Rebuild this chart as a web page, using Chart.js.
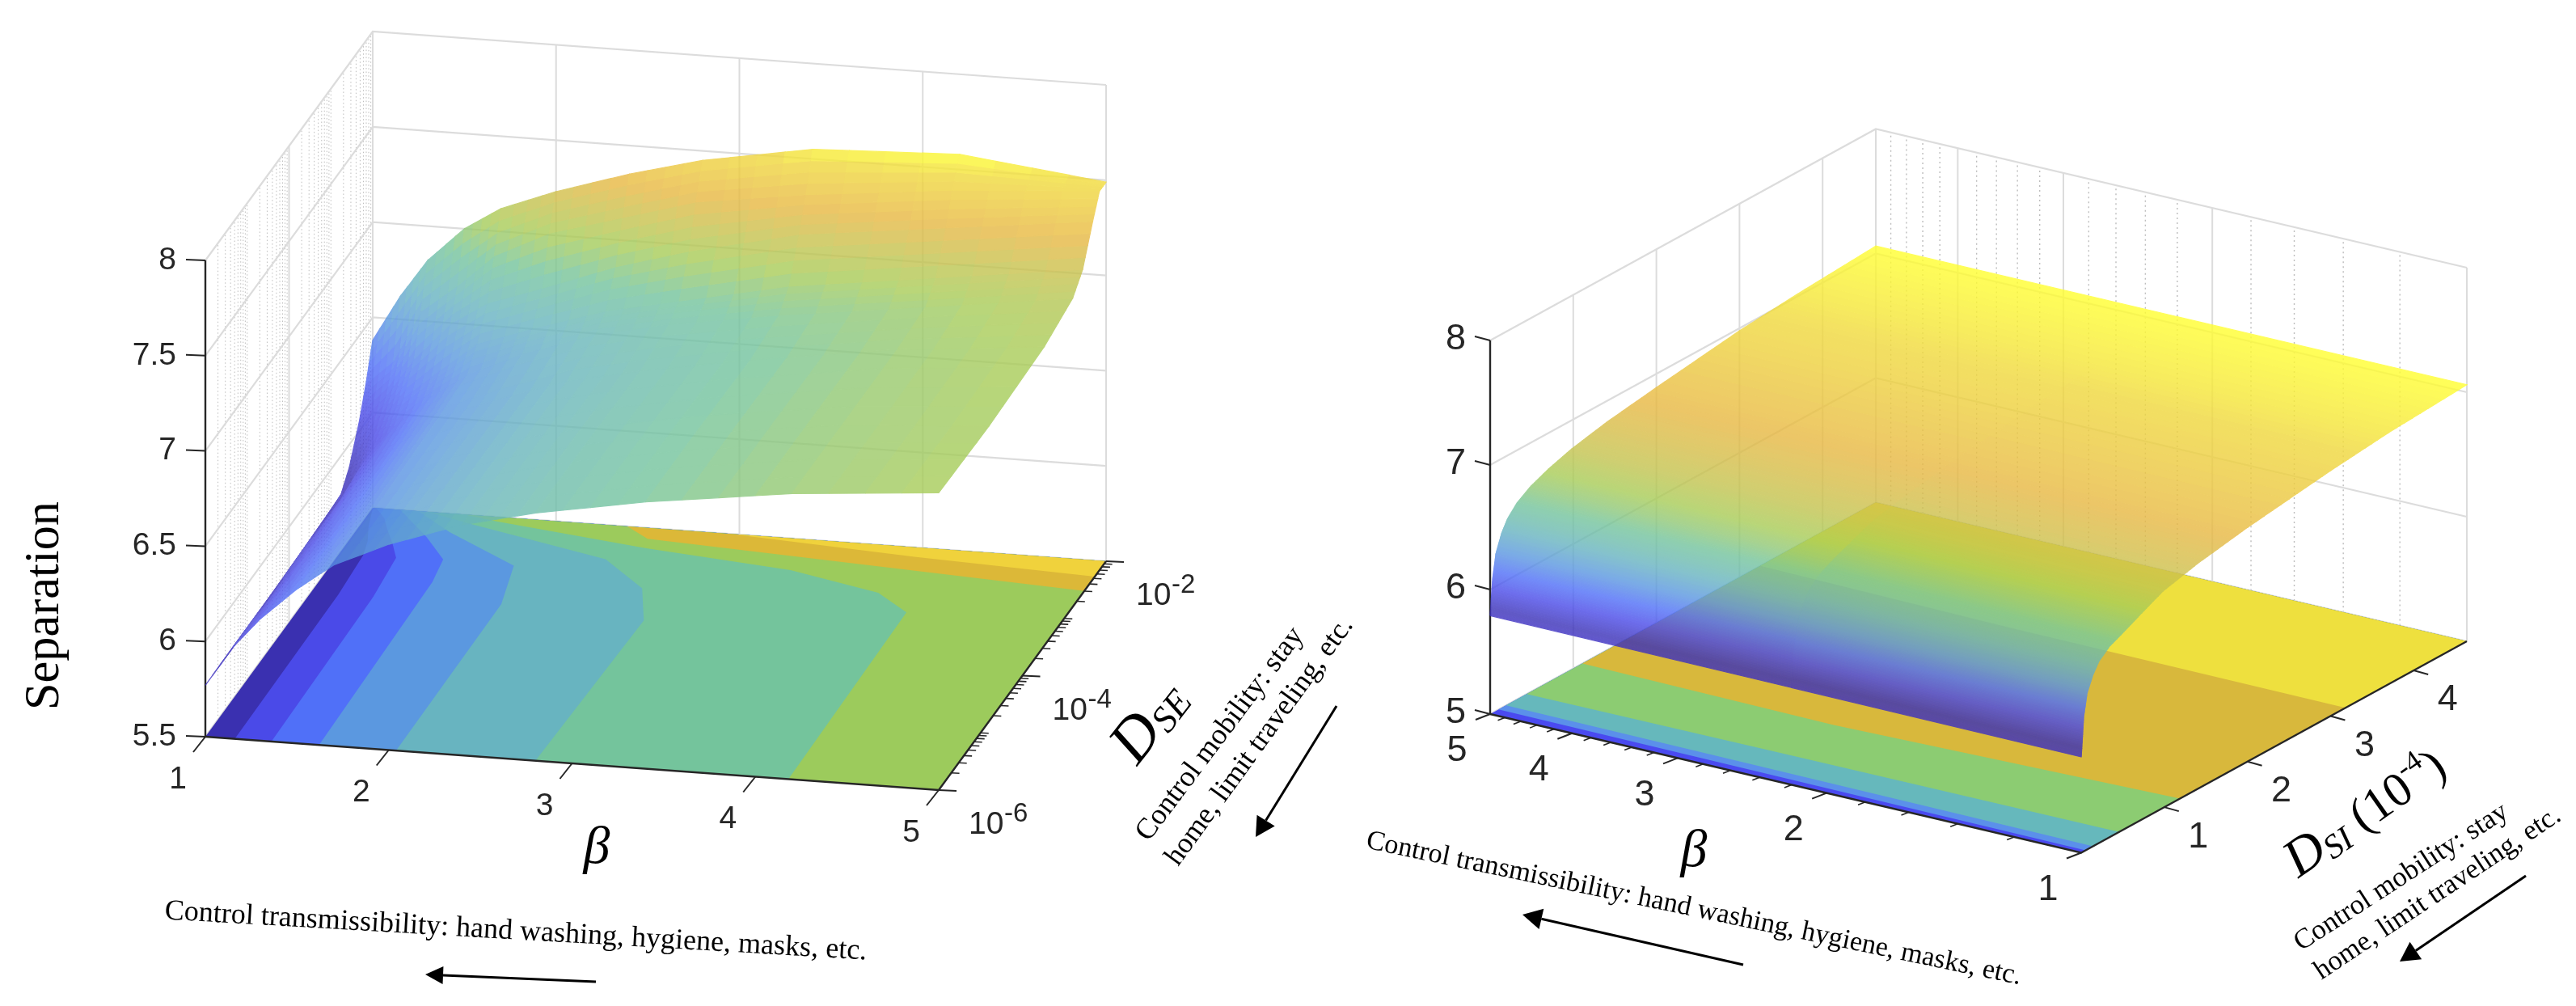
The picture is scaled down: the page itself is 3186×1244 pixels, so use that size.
<!DOCTYPE html>
<html><head><meta charset="utf-8">
<style>
html,body{margin:0;padding:0;background:#fff;width:3186px;height:1244px;overflow:hidden}
canvas{position:absolute;left:0;top:0}
#surf{opacity:.8}
</style>
<script src="https://cdn.jsdelivr.net/npm/chart.js@4/dist/chart.umd.js"></script>
</head><body>
<canvas id="base" width="3186" height="1244"></canvas>
<canvas id="surf" width="3186" height="1244"></canvas>
<script>
/* ---------- values ---------- */
/* left panel: Separation over beta and log10(D_SE) */
const betaL = [1,1.15,1.3,1.5,1.7,2,2.4,2.8,3.4,4.2,5];
const logDL = [-6,-4.8,-3.48,-2.8,-2.56,-2.32,-2.16,-2];
const sepL_m6   = [5.77,5.98,6.14,6.31,6.45,6.58,6.71,6.80,6.90,7.00,7.06];
const sepL_m48  = [5.77,5.98,6.14,6.31,6.45,6.58,6.71,6.80,6.90,7.00,7.05];
const sepL_m348 = [5.78,6.00,6.16,6.33,6.47,6.58,6.71,6.79,6.89,7.00,7.07];
const sepL_m28  = [5.78,6.03,6.19,6.36,6.49,6.62,6.75,6.83,6.92,7.02,7.12];
const sepL_m256 = [5.88,6.09,6.27,6.43,6.58,6.68,6.80,6.88,7.00,7.10,7.20];
const sepL_m232 = [6.05,6.20,6.40,6.60,6.72,6.82,6.96,7.07,7.20,7.29,7.38];
const sepL_m216 = [6.20,6.33,6.60,6.75,6.92,7.06,7.17,7.28,7.36,7.44,7.49];
const sepL_m2   = [6.38,6.62,6.82,7.00,7.12,7.23,7.35,7.45,7.55,7.58,7.49];
/* left floor contours: [beta, log10 D] */
const contourL60 = [[1.16,-6],[1.15,-3.48],[1.13,-2.8],[1.10,-2.56],[1.05,-2.32],[1.0,-2]];
const contourL62 = [[1.36,-6],[1.34,-3.48],[1.31,-2.8],[1.235,-2.56],[1.15,-2.32],[1.1,-2.16],[1.02,-2]];
const contourL64 = [[1.62,-6],[1.59,-3.16],[1.56,-2.77],[1.39,-2.42],[1.15,-2]];
const contourL66 = [[2.04,-6],[2.03,-3.44],[1.95,-2.79],[1.49,-2.31],[1.25,-2]];
const contourL68 = [[2.80,-6],[2.83,-3.54],[2.70,-3.01],[2.40,-2.57],[1.57,-2.15],[1.3,-2]];
const contourL70 = [[4.18,-6],[4.16,-3.09],[3.94,-2.8],[3.40,-2.53],[2.57,-2.34],[1.68,-2.07],[1.5,-2]];
const contourL72 = [[5,-2.52],[2.54,-2.18],[2.39,-2]];
const contourL74 = [[5,-2.27],[4,-2.16],[2.95,-2]];
const floorColorsL = ['#3a30b0','#4a4ae8','#5070f8','#5b98e0','#68b4c0','#74c49c','#9ccb5c','#dcb838','#f0d23c'];

/* right panel: Separation over beta and D_SI (1e-4) */
const betaR = [5,2.2,1];
const dsiR = [0,.03,.07,.14,.21,.33,.49,.7,.98,1.4,2,3,3.7,4.64];
const sepR_b5 = [5.79,6.07,6.26,6.40,6.49,6.58,6.65,6.71,6.77,6.83,6.89,6.98,7.02,7.06];
const sepR_b2 = [5.78,6.08,6.26,6.39,6.48,6.56,6.62,6.68,6.76,6.82,6.89,6.98,7.02,7.06];
const sepR_b1 = [5.77,6.09,6.26,6.38,6.46,6.53,6.58,6.65,6.74,6.81,6.88,6.97,7.02,7.06];
const contourR62 = [[5,.10],[2.5,.08],[1,.053]];
const contourR64 = [[5,.19],[2.5,.17],[1,.144]];
const contourR66 = [[5,.44],[2.5,.45],[1,.455]];
const contourR68 = [[5,1.11],[2.5,1.07],[1,1.19]];
const contourR70 = [[5,3.25],[2.5,3.2],[1,3.18]];
const floorColorsR = ['#4a4af0','#5b90ea','#66b8bc','#8ccc72','#d8b83c','#eee03e'];

/* tick labels */
const zTicksL = [8,7.5,7,6.5,6,5.5];
const betaTicksL = [1,2,3,4,5];
const logDTicksL = [-6,-4,-2];
const zTicksR = [8,7,6,5];
const betaTicksR = [5,4,3,2,1];
const dsiTicksR = [1,2,3,4];

const zStops = [[0,'#3c2fc4'],[.06,'#3a30b8'],[.18,'#4a4ae8'],[.29,'#5070f8'],[.4,'#5b98e0'],[.51,'#68b4c0'],[.62,'#74c49c'],[.71,'#a8cc58'],[.85,'#e8b842'],[.95,'#f0d83c'],[1,'#ffff30']];

/* ---------- axes geometry ---------- */
const gL = {o:[254,911], a:[907,66], b:[207,-283], z:235.6, z0:5.5, zTop:8};
const gR = {o:[1843,883], a:[731,171.5], b:[477,-261.5], z:154, z0:5, zTop:8};
const aL = b => (b-1)/4, uL = d => (d+6)/4;
const aR = b => Math.log(5/b)/Math.log(5), uR = d => d/4.64;
function proj(g,a,u,z){return {x:g.o[0]+g.a[0]*a+g.b[0]*u, y:g.o[1]+g.a[1]*a+g.b[1]*u-g.z*(z-g.z0)};}
const pL=(b,d,z)=>proj(gL,aL(b),uL(d),z===undefined?gL.z0:z);
const pR=(b,d,z)=>proj(gR,aR(b),uR(d),z===undefined?gR.z0:z);

function hex(c){return [1,3,5].map(i=>parseInt(c.substr(i,2),16));}
function cmap(t){
  t=Math.max(0,Math.min(1,t));
  for(let i=1;i<zStops.length;i++){
    if(t<=zStops[i][0]){
      const [t0,c0]=zStops[i-1],[t1,c1]=zStops[i];
      const f=(t-t0)/(t1-t0),A=hex(c0),B=hex(c1);
      return 'rgb('+A.map((v,k)=>Math.round(v+(B[k]-v)*f)).join(',')+')';
    }
  }
  return zStops[zStops.length-1][1];
}

/* ---------- dataset builders ---------- */
function line(pts,color,width,dash){return {data:pts,showLine:true,pointRadius:0,borderColor:color,borderWidth:width,borderDash:dash||[],fill:false,tension:0,clip:false};}
function poly(pts,color,seam){return {data:pts.concat([pts[0]]),showLine:true,pointRadius:0,borderColor:color,borderWidth:seam?1.2:0,backgroundColor:color,fill:'shape',tension:0,clip:false};}
function arrow(x1,y1,x2,y2,head,w){
  const L=Math.hypot(x2-x1,y2-y1),ux=(x2-x1)/L,uy=(y2-y1)/L,bx=x2-ux*head,by=y2-uy*head;
  return [line([{x:x1,y:y1},{x:bx,y:by}],'#000',3),
    poly([{x:x2,y:y2},{x:bx-uy*w,y:by+ux*w},{x:bx+uy*w,y:by-ux*w}],'#000')];
}

const GRID='#dcdcdc', DOT='#bdbdbd', AX='#262626';
const base=[];
/* --- left panel walls --- */
const logMinorL=[];
for(let d=-6;d<-2;d++){for(const m of [1,2,3,4,5,6,7,8,9]){const v=d+Math.log10(m); if(![-6,-4].includes(v)) logMinorL.push(v);}}
for(const v of logMinorL) base.push(line([pL(1,v,5.5),pL(1,v,8)],DOT,1,[1.5,3]));
for(const d of [-4,-2]) base.push(line([pL(1,d,5.5),pL(1,d,8)],GRID,2));
for(const b of [2,3,4,5]) base.push(line([pL(b,-2,5.5),pL(b,-2,8)],GRID,2));
for(const z of zTicksL){base.push(line([pL(1,-6,z),pL(1,-2,z),pL(5,-2,z)],GRID,2.2));}
/* --- left floor --- */
base.push(poly([pL(1,-6),pL(5,-6),pL(5,-2),pL(1,-2)],floorColorsL[0]));
[contourL60,contourL62,contourL64,contourL66,contourL68,contourL70,contourL72,contourL74].forEach((c,i)=>{
  const pts=c.map(p=>pL(p[0],p[1]));
  pts.push(pL(5,-2)); pts.push(pL(5,c[0][1]));
  base.push(poly(pts,floorColorsL[i+1]));
});
/* --- left axes --- */
base.push(line([pL(1,-6,8),pL(1,-6,5.5)],AX,2.4));
base.push(line([pL(1,-6),pL(5,-6),pL(5,-2)],AX,2.4));
const off=(p,dx,dy)=>[p,{x:p.x+dx,y:p.y+dy}];
for(const z of zTicksL) base.push(line(off(pL(1,-6,z),-24,-1),AX,2));
for(const b of betaTicksL) base.push(line(off(pL(b,-6),-15,19),AX,2));
for(const v of logMinorL) if(v!==-2) base.push(line(off(pL(5,v),10,.5),AX,1.6));
for(const d of logDTicksL) base.push(line(off(pL(5,d),22,1),AX,2));

/* --- right panel walls --- */
const betaMinorR=[4.8,4.6,4.4,4.2,3.8,3.6,3.4,3.2,2.8,2.6,2.4,2.2,1.8,1.6,1.4,1.2];
for(const b of betaMinorR) base.push(line([pR(b,4.64,5),pR(b,4.64,8)],DOT,1.4,[2,4]));
for(const b of betaTicksR) base.push(line([pR(b,4.64,5),pR(b,4.64,8)],GRID,2));
for(const d of dsiTicksR) base.push(line([pR(5,d,5),pR(5,d,8)],GRID,2));
for(const z of zTicksR) base.push(line([pR(5,0,z),pR(5,4.64,z),pR(1,4.64,z)],GRID,2.2));
/* --- right floor --- */
base.push(poly([pR(5,0),pR(1,0),pR(1,4.64),pR(5,4.64)],floorColorsR[0]));
[contourR62,contourR64,contourR66,contourR68,contourR70].forEach((c,i)=>{
  const pts=c.map(p=>pR(p[0],p[1]));
  pts.push(pR(1,4.64)); pts.push(pR(5,4.64));
  base.push(poly(pts,floorColorsR[i+1]));
});
/* --- right axes --- */
base.push(line([pR(5,0,8),pR(5,0,5)],AX,2.4));
base.push(line([pR(5,0),pR(1,0),pR(1,4.64)],AX,2.4));
for(const z of zTicksR) base.push(line(off(pR(5,0,z),-19,-5),AX,2));
for(const b of betaTicksR) base.push(line(off(pR(b,0),-18,7),AX,2));
for(const b of betaMinorR) base.push(line(off(pR(b,0),-9,3.5),AX,1.6));
for(const d of dsiTicksR) base.push(line(off(pR(1,d),18,5),AX,2));

/* --- annotation arrows --- */
base.push(...arrow(737,1214,526,1205,22,11));
base.push(...arrow(1653,873,1553,1035,24,13));
base.push(...arrow(2156,1193,1883,1131,24,13));
base.push(...arrow(3124,1083,2968,1189,24,13));

/* --- surfaces (shaded mesh over the read values) --- */
const surf=[];
function shade(xs,ys,zz,project,zmin,zmax,nx,nyFor){
  for(let j=0;j<ys.length-1;j++)for(let i=0;i<xs.length-1;i++){
    const ny=nyFor(j);
    for(let q=0;q<ny;q++)for(let r=0;r<nx;r++){
      const at=(ri,qi)=>{const s=ri/nx,t=qi/ny;
        const z=(zz[j][i]*(1-s)+zz[j][i+1]*s)*(1-t)+(zz[j+1][i]*(1-s)+zz[j+1][i+1]*s)*t;
        return {p:project(xs[i]+(xs[i+1]-xs[i])*s,ys[j]+(ys[j+1]-ys[j])*t,z),z};};
      const A=at(r,q),B=at(r+1,q),C=at(r+1,q+1),D=at(r,q+1);
      const zm=(A.z+B.z+C.z+D.z)/4;
      surf.push(poly([A.p,B.p,C.p,D.p],cmap((zm-zmin)/(zmax-zmin)),true));
    }
  }
}
shade(betaL,logDL,[sepL_m6,sepL_m48,sepL_m348,sepL_m28,sepL_m256,sepL_m232,sepL_m216,sepL_m2],pL,5.77,7.58,4,()=>4);
const rowsR=dsiR.map((_,k)=>[sepR_b5[k],sepR_b2[k],sepR_b1[k]]);
shade(betaR,dsiR,rowsR,pR,5.77,7.06,1,j=>j<5?24:10);

/* ---------- text ---------- */
const SANS='"Liberation Sans",Arial,sans-serif', SERIF='"Liberation Serif",serif';
function txt(ctx,s,x,y,font,align,color,base2){ctx.font=font;ctx.textAlign=align||'center';ctx.textBaseline=base2||'middle';ctx.fillStyle=color||'#262626';ctx.fillText(s,x,y);}
function fitRot(ctx,s,cx,cy,deg,len,style){
  ctx.save();ctx.translate(cx,cy);ctx.rotate(deg*Math.PI/180);
  ctx.font=style+'100px '+SERIF;
  const size=100*len/ctx.measureText(s).width;
  ctx.font=style+size.toFixed(1)+'px '+SERIF;ctx.textAlign='center';ctx.textBaseline='middle';ctx.fillStyle='#000';ctx.fillText(s,0,0);ctx.restore();
}
function runs(ctx,parts,cx,cy,deg){
  ctx.save();ctx.translate(cx,cy);ctx.rotate(deg*Math.PI/180);ctx.textAlign='left';ctx.textBaseline='alphabetic';ctx.fillStyle='#000';
  let w=0;parts.forEach(p=>{ctx.font=p[1];w+=ctx.measureText(p[0]).width;});
  let x=-w/2;parts.forEach(p=>{ctx.font=p[1];ctx.fillText(p[0],x,p[2]);x+=ctx.measureText(p[0]).width;});
  ctx.restore();
}
const textPlugin={id:'labels',afterDraw(c){
  const ctx=c.ctx;ctx.save();
  const fL='39px '+SANS,fR='45px '+SANS;
  for(const z of zTicksL){const p=pL(1,-6,z);txt(ctx,String(z),218,p.y,fL,'right');}
  for(const b of betaTicksL){const p=pL(b,-6);txt(ctx,String(b),p.x-34,p.y+53,fL);}
  for(const d of logDTicksL){const p=pL(5,d);
    txt(ctx,'10',p.x+37,p.y+54,fL,'left','#262626','alphabetic');
    txt(ctx,String(d),p.x+81,p.y+39,'33px '+SANS,'left','#262626','alphabetic');}
  for(const z of zTicksR){const p=pR(5,0,z);txt(ctx,String(z),1813,p.y-1,fR,'right');}
  for(const b of betaTicksR){const p=pR(b,0);txt(ctx,String(b),p.x-41,p.y+46,fR);}
  for(const d of dsiTicksR){const p=pR(1,d);txt(ctx,String(d),p.x+42,p.y+37,fR);}
  /* axis titles */
  fitRot(ctx,'Separation',56,749,-90,258,'');
  txt(ctx,'β',738,1050,'italic 66px '+SERIF,'center','#000');
  txt(ctx,'β',2095,1054,'italic 66px '+SERIF,'center','#000');
  runs(ctx,[['D','italic 76px '+SERIF,0],['SE','italic 46px '+SERIF,6]],1439,906,-52);
  runs(ctx,[['D','italic 66px '+SERIF,0],['SI','italic 42px '+SERIF,6],[' (10','60px '+SERIF,0],['-4','36px '+SERIF,-26],[')','60px '+SERIF,0]],2936,1021,-35);
  /* annotations */
  fitRot(ctx,'Control transmissibility: hand washing, hygiene, masks, etc.',638,1152,3.3,870,'');
  fitRot(ctx,'Control transmissibility: hand washing, hygiene, masks, etc.',2095,1124,11.8,828,'');
  fitRot(ctx,'Control mobility: stay',1509,908,-53,321,'');
  fitRot(ctx,'home, limit traveling, etc.',1558,917,-54,370,'');
  fitRot(ctx,'Control mobility: stay',2970,1085,-33,308,'');
  fitRot(ctx,'home, limit traveling, etc.',3015,1105,-33.7,358,'');
  ctx.restore();
}};

function make(id,datasets,plugins){
  return new Chart(document.getElementById(id),{
    type:'scatter',
    data:{datasets:datasets.slice().reverse()},
    plugins:plugins||[],
    options:{responsive:false,animation:false,devicePixelRatio:1,events:[],
      layout:{padding:0},
      plugins:{legend:{display:false},tooltip:{enabled:false}},
      scales:{
        x:{type:'linear',min:0,max:3186,display:false},
        y:{type:'linear',min:0,max:1244,reverse:true,display:false}
      }}
  });
}
make('base',base,[textPlugin]);
make('surf',surf);
</script>
</body></html>
